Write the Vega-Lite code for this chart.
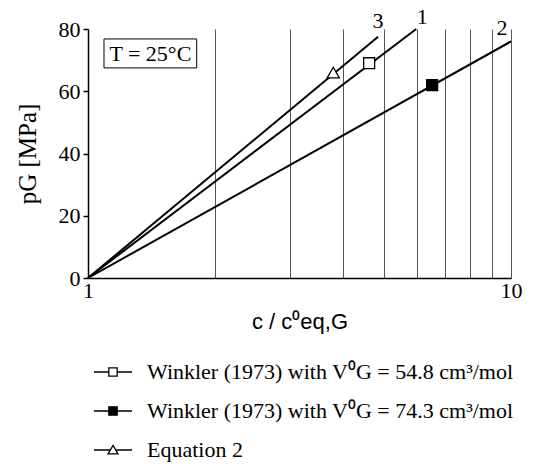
{
  "$schema": "https://vega.github.io/schema/vega-lite/v6.json",
  "width": 423,
  "height": 249,
  "autosize": "none",
  "padding": {"left": 88, "top": 29, "right": 35, "bottom": 187},
  "config": {"view": {"stroke": null}, "font": "Liberation Serif", "text": {"font": "Liberation Serif"}},
  "datasets": {
    "lines": [
      {"series": "1", "x": 1, "y": 0}, {"series": "1", "x": 5.97, "y": 80},
      {"series": "2", "x": 1, "y": 0}, {"series": "2", "x": 10, "y": 76},
      {"series": "3", "x": 1, "y": 0}, {"series": "3", "x": 4.85, "y": 77.5}
    ],
    "markers": [
      {"series": "1", "x": 4.62, "y": 69},
      {"series": "2", "x": 6.51, "y": 62},
      {"series": "3", "x": 3.8, "y": 66}
    ],
    "legend": [
      {"label": "Winkler (1973) with V⁰G = 54.8 cm³/mol"},
      {"label": "Winkler (1973) with V⁰G = 74.3 cm³/mol"},
      {"label": "Equation 2"}
    ]
  },
  "layer": [
    {
      "data": {"name": "lines"},
      "mark": {"type": "line", "color": "black", "strokeWidth": 2},
      "encoding": {
        "x": {
          "field": "x", "type": "quantitative",
          "scale": {"type": "log", "domain": [1, 10], "nice": false},
          "axis": {
            "title": "c / c⁰eq,G",
            "titleFont": "Liberation Sans", "titleFontSize": 22, "titleFontWeight": "normal", "titleColor": "black", "titlePadding": 10,
            "values": [1, 2, 3, 4, 5, 6, 7, 8, 9, 10],
            "labelExpr": "datum.value == 1 || datum.value == 10 ? format(datum.value, 'd') : ''",
            "labelFont": "Liberation Serif", "labelFontSize": 22, "labelColor": "black", "labelFlush": false, "labelOverlap": false, "labelPadding": 2,
            "ticks": false,
            "grid": true, "gridColor": "#555555", "gridWidth": 1,
            "domainColor": "black", "domainWidth": 1.5
          }
        },
        "y": {
          "field": "y", "type": "quantitative",
          "scale": {"domain": [0, 80], "nice": false},
          "axis": {
            "title": "pG [MPa]",
            "titleFont": "Liberation Serif", "titleFontSize": 25, "titleFontWeight": "normal", "titleColor": "black", "titlePadding": 18,
            "values": [0, 20, 40, 60, 80],
            "labelFont": "Liberation Serif", "labelFontSize": 22, "labelColor": "black", "labelPadding": 3,
            "tickColor": "black", "tickSize": 5, "tickWidth": 1.5,
            "grid": false, "domainColor": "black", "domainWidth": 1.5
          }
        },
        "detail": {"field": "series"}
      }
    },
    {
      "data": {"name": "markers"},
      "transform": [{"filter": "datum.series == '1'"}],
      "mark": {"type": "point", "shape": "square", "size": 120, "filled": true, "fill": "white", "stroke": "black", "strokeWidth": 1.3, "opacity": 1},
      "encoding": {"x": {"field": "x", "type": "quantitative"}, "y": {"field": "y", "type": "quantitative"}}
    },
    {
      "data": {"name": "markers"},
      "transform": [{"filter": "datum.series == '2'"}],
      "mark": {"type": "point", "shape": "square", "size": 120, "filled": true, "fill": "black", "stroke": "black", "strokeWidth": 1.3, "opacity": 1},
      "encoding": {"x": {"field": "x", "type": "quantitative"}, "y": {"field": "y", "type": "quantitative"}}
    },
    {
      "data": {"name": "markers"},
      "transform": [{"filter": "datum.series == '3'"}],
      "mark": {"type": "point", "shape": "triangle-up", "size": 150, "filled": true, "fill": "white", "stroke": "black", "strokeWidth": 1.3, "opacity": 1},
      "encoding": {"x": {"field": "x", "type": "quantitative"}, "y": {"field": "y", "type": "quantitative"}}
    },
    {
      "data": {"name": "lines"},
      "transform": [{"filter": "datum.x > 1 && datum.series == '1'"}],
      "mark": {"type": "text", "fontSize": 22, "color": "black", "align": "center", "baseline": "bottom", "dx": 6, "dy": 0},
      "encoding": {"x": {"field": "x", "type": "quantitative"}, "y": {"field": "y", "type": "quantitative"}, "text": {"field": "series"}}
    },
    {
      "data": {"name": "lines"},
      "transform": [{"filter": "datum.x > 1 && datum.series == '2'"}],
      "mark": {"type": "text", "fontSize": 22, "color": "black", "align": "center", "baseline": "bottom", "dx": -9, "dy": -1},
      "encoding": {"x": {"field": "x", "type": "quantitative"}, "y": {"field": "y", "type": "quantitative"}, "text": {"field": "series"}}
    },
    {
      "data": {"name": "lines"},
      "transform": [{"filter": "datum.x > 1 && datum.series == '3'"}],
      "mark": {"type": "text", "fontSize": 22, "color": "black", "align": "center", "baseline": "bottom", "dx": 0, "dy": -4},
      "encoding": {"x": {"field": "x", "type": "quantitative"}, "y": {"field": "y", "type": "quantitative"}, "text": {"field": "series"}}
    },
    {
      "data": {"values": [{}]},
      "mark": {"type": "rect", "fill": "white", "stroke": "black", "strokeWidth": 1},
      "encoding": {
        "x": {"datum": 1.091, "type": "quantitative"},
        "x2": {"datum": 1.807},
        "y": {"datum": 76.8, "type": "quantitative"},
        "y2": {"datum": 67.5}
      }
    },
    {
      "data": {"values": [{"t": "T = 25°C"}]},
      "mark": {"type": "text", "fontSize": 22, "color": "black", "align": "center", "baseline": "middle"},
      "encoding": {
        "x": {"datum": 1.404, "type": "quantitative"},
        "y": {"datum": 72.1, "type": "quantitative"},
        "text": {"field": "t"}
      }
    },
    {
      "data": {"name": "legend"},
      "mark": {"type": "point", "filled": true, "opacity": 0, "stroke": "black"},
      "encoding": {
        "x": {"datum": 1, "type": "quantitative"},
        "y": {"datum": 0, "type": "quantitative"},
        "shape": {
          "field": "label", "type": "nominal",
          "scale": {
            "domain": ["Winkler (1973) with V⁰G = 54.8 cm³/mol", "Winkler (1973) with V⁰G = 74.3 cm³/mol", "Equation 2"],
            "range": [
              "M-1,0H-0.22M0.22,0H1M-0.22,-0.22H0.22V0.22H-0.22Z",
              "M-1,0H-0.22M0.22,0H1M-0.22,-0.22H0.22V0.22H-0.22Z",
              "M-1,0H-0.14M0.14,0H1M0,-0.24L0.26,0.2H-0.26Z"
            ]
          },
          "legend": {
            "orient": "none", "legendX": 5, "legendY": 323, "title": null,
            "symbolSize": 1444, "symbolStrokeColor": "black", "symbolStrokeWidth": 1.3, "symbolOpacity": 1,
            "labelFont": "Liberation Serif", "labelFontSize": 22, "labelColor": "black", "labelOffset": 14, "labelLimit": 500,
            "rowPadding": 8,
            "encode": {"symbols": {"update": {"stroke": {"value": "black"}, "strokeWidth": {"value": 1.3}, "opacity": {"value": 1}, "strokeOpacity": {"value": 1}}}}
          }
        },
        "fill": {
          "field": "label", "type": "nominal",
          "scale": {
            "domain": ["Winkler (1973) with V⁰G = 54.8 cm³/mol", "Winkler (1973) with V⁰G = 74.3 cm³/mol", "Equation 2"],
            "range": ["white", "black", "white"]
          },
          "legend": {
            "orient": "none", "legendX": 5, "legendY": 323, "title": null,
            "symbolSize": 1444, "symbolStrokeColor": "black", "symbolStrokeWidth": 1.3, "symbolOpacity": 1,
            "labelFont": "Liberation Serif", "labelFontSize": 22, "labelColor": "black", "labelOffset": 14, "labelLimit": 500,
            "rowPadding": 8,
            "encode": {"symbols": {"update": {"stroke": {"value": "black"}, "strokeWidth": {"value": 1.3}, "opacity": {"value": 1}, "strokeOpacity": {"value": 1}}}}
          }
        }
      }
    }
  ]
}
